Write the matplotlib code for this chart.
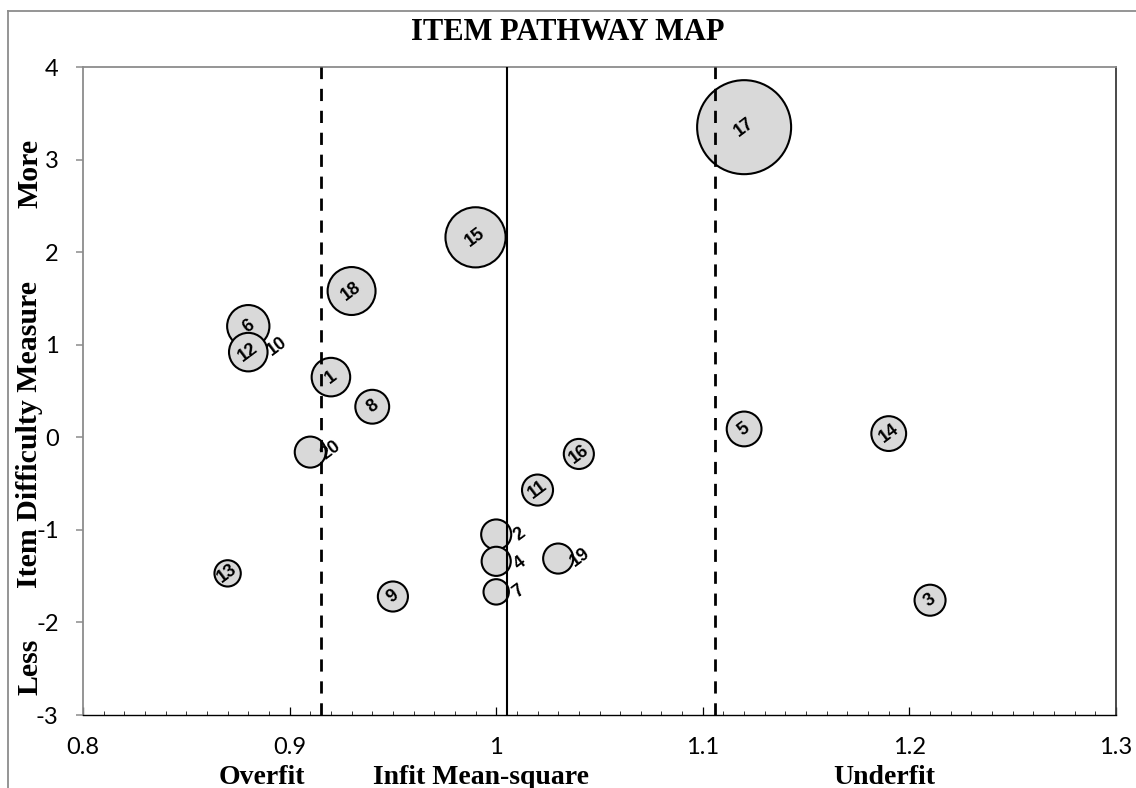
import matplotlib
matplotlib.use('Agg')
import matplotlib.pyplot as plt
from matplotlib.ticker import MultipleLocator, FixedLocator
from matplotlib.lines import Line2D

# ---------------- data ----------------
items   = [1, 2, 3, 4, 5, 6, 7, 8, 9, 10, 11, 12, 13, 14, 15, 16, 17, 18, 19, 20]
infit   = [0.92, 1.00, 1.21, 1.00, 1.12, 0.88, 1.00, 0.94, 0.95, 0.88,
           1.02, 0.88, 0.87, 1.19, 0.99, 1.04, 1.12, 0.93, 1.03, 0.91]
measure = [0.65, -1.05, -1.76, -1.34, 0.09, 1.20, -1.67, 0.33, -1.72, 0.94,
           -0.57, 0.92, -1.47, 0.04, 2.16, -0.18, 3.35, 1.58, -1.31, -0.16]
# bubble size (relative, proportional to bubble width)
bubble  = [0.41, 0.32, 0.33, 0.31, 0.37, 0.45, 0.27, 0.36, 0.32, 0.35,
           0.33, 0.41, 0.28, 0.37, 0.64, 0.32, 1.00, 0.51, 0.32, 0.33]

overfit_line = 0.915
mean_line = 1.005
underfit_line = 1.106

x_ticks = [0.8, 0.9, 1.0, 1.1, 1.2, 1.3]
x_tick_labels = ['0.8', '0.9', '1', '1.1', '1.2', '1.3']
y_ticks = [-3, -2, -1, 0, 1, 2, 3, 4]
y_tick_labels = ['-3', '-2', '-1', '0', '1', '2', '3', '4']

title = 'ITEM PATHWAY MAP'

# ---------------- layout ----------------
W, H = 1136, 788
PX = 72 / 100.0           # points per pixel
fig = plt.figure(figsize=(W / 100, H / 100), dpi=100)
fig.patch.set_facecolor('white')

L, R, T, B = 83, 1116, 67, 715
ax = fig.add_axes([L / W, (H - B) / H, (R - L) / W, (B - T) / H])
ax.set_xlim(0.8, 1.3)
ax.set_ylim(-3, 4)

# bubbles (drawn in item order)
max_r_px = 47.0
sizes = [(2 * b * max_r_px * PX) ** 2 for b in bubble]
ax.scatter(infit, measure, s=sizes, facecolor='#d9d9d9', edgecolor='black',
           linewidth=1.5, zorder=2)

# reference lines
ax.axvline(overfit_line, color='black', lw=2.0, dashes=(4.4, 3.5), zorder=3)
ax.axvline(underfit_line, color='black', lw=2.0, dashes=(4.4, 3.5), zorder=3)
ax.axvline(mean_line, color='black', lw=1.5, zorder=3)

# labels: offsets in pixels (right, up) for labels placed beside the bubble
label_offset = {2: (23, 0), 4: (24, -2), 7: (22, 0), 19: (22, 1), 20: (20, 2), 10: (29, 4)}
for it, x, y in zip(items, infit, measure):
    dx, dy = label_offset.get(it, (0, 0))
    ax.annotate(str(it), (x, y), xytext=(dx * PX, dy * PX), textcoords='offset points',
                rotation=37, rotation_mode='anchor', ha='center', va='center',
                fontsize=13, fontweight='bold', family='Liberation Sans',
                color='black', zorder=5)

# axes styling
for side in ['left', 'top']:
    ax.spines[side].set_color('#8c8c8c')
    ax.spines[side].set_linewidth(1.3)
ax.spines['right'].set_color('#3a3a3a')
ax.spines['right'].set_linewidth(1.3)
ax.spines['bottom'].set_color('black')
ax.spines['bottom'].set_linewidth(1.0)

ax.xaxis.set_major_locator(FixedLocator(x_ticks))
ax.set_xticklabels(x_tick_labels)
ax.xaxis.set_minor_locator(MultipleLocator(0.01))
ax.yaxis.set_major_locator(FixedLocator(y_ticks))
ax.set_yticklabels(y_tick_labels)

ax.tick_params(axis='x', which='major', direction='in', length=5.5, width=0.9,
               color='black', pad=16, labelsize=17)
ax.tick_params(axis='x', which='minor', direction='in', length=3.2, width=0.7,
               color='#333333')
ax.tick_params(axis='y', which='major', direction='out', length=5, width=1.1,
               color='#8c8c8c', pad=12.5, labelsize=17)
for lab in ax.get_xticklabels() + ax.get_yticklabels():
    lab.set_family('Lato')
    lab.set_color('black')

# titles
serif = 'Liberation Serif'
def ftext(xp, yp, s, **kw):
    fig.text(xp / W, 1 - yp / H, s, family=serif, fontweight='bold', ha='center',
             va='center', color='black', **kw)

ftext(568, 32, title, fontsize=22)
ftext(262, 777, 'Overfit', fontsize=20)
ftext(481, 777, 'Infit Mean-square', fontsize=20)
ftext(884, 777, 'Underfit', fontsize=20)
ftext(30, 173, 'More', fontsize=21.5, rotation=90)
ftext(30, 435, 'Item Difficulty Measure', fontsize=21.5, rotation=90)
ftext(30, 667, 'Less', fontsize=21.5, rotation=90)

# outer chart border (top and left visible)
fig.add_artist(Line2D([7.5 / W, 1.0], [1 - 10.5 / H, 1 - 10.5 / H],
                      transform=fig.transFigure, color='#8c8c8c', lw=1.3))
fig.add_artist(Line2D([7.5 / W, 7.5 / W], [0, 1 - 10.5 / H],
                      transform=fig.transFigure, color='#8c8c8c', lw=1.3))

fig.savefig('out.png', dpi=100, facecolor='white')
